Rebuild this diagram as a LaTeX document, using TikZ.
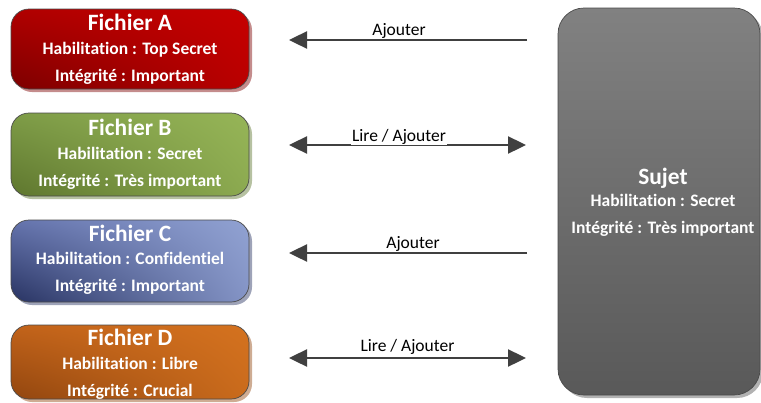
\documentclass[tikz,border=0pt]{standalone}
\usepackage{fontspec}
\setmainfont{Carlito}[Ligatures=NoCommon]
\usetikzlibrary{arrows.meta,shadows,shadings}

% corner colours of the file boxes: upper left, upper right, lower left, lower right
\definecolor{redUL}{HTML}{B00000}
\definecolor{redUR}{HTML}{C60000}
\definecolor{redLL}{HTML}{7C0000}
\definecolor{redLR}{HTML}{BA0000}
\definecolor{greenUL}{HTML}{7E9C47}
\definecolor{greenUR}{HTML}{96B557}
\definecolor{greenLL}{HTML}{5E762E}
\definecolor{greenLR}{HTML}{8CAA50}
\definecolor{blueUL}{HTML}{6574AD}
\definecolor{blueUR}{HTML}{91A2D2}
\definecolor{blueLL}{HTML}{283362}
\definecolor{blueLR}{HTML}{8494C6}
\definecolor{orangeUL}{HTML}{C2631A}
\definecolor{orangeUR}{HTML}{D4721F}
\definecolor{orangeLL}{HTML}{92460F}
\definecolor{orangeLR}{HTML}{CA6B1C}
\definecolor{greyhi}{HTML}{818181}
\definecolor{greylo}{HTML}{595959}
\definecolor{edge}{HTML}{4A4A4A}
\definecolor{arrowgrey}{HTML}{404040}

\tikzset{
  filebox/.style={draw=edge, line width=0.7pt, rounded corners=18pt,
    minimum width=238pt, inner sep=0pt,
    upper left=#1UL, upper right=#1UR, lower left=#1LL, lower right=#1LR,
    drop shadow={shadow xshift=3pt, shadow yshift=-3pt, fill=#1LL, opacity=0.45}},
  ttl/.style={text=white, font=\bfseries\fontsize{23.4}{28}\selectfont, anchor=base, inner sep=0pt},
  sub/.style={text=white, font=\bfseries\fontsize{17.5}{21}\selectfont, anchor=base, inner sep=0pt},
  lbl/.style={text=black, font=\fontsize{17.5}{21}\selectfont, anchor=base, inner sep=0pt},
  flow/.style={draw=arrowgrey, line width=2.4pt,
    arrows={-Triangle[length=18pt, width=17pt]}},
  flowboth/.style={draw=arrowgrey, line width=2.4pt,
    arrows={Triangle[length=18pt, width=17pt]-Triangle[length=18pt, width=17pt]}}
}

\begin{document}
\begin{tikzpicture}[x=1pt, y=-1pt]
\useasboundingbox (0,0) rectangle (761,402);

% --- file boxes -------------------------------------------------------
\node[filebox=red, minimum height=80pt] (A) at (130,49) {};
\node[ttl] (At) at (130,30) {Fichier A};
\node[sub] (Ah) at (130,54) {Habilitation : Top Secret};
\node[sub] (Ai) at (130,81) {Intégrité : Important};

\node[filebox=green, minimum height=83pt] (B) at (130,154.5) {};
\node[ttl] (Bt) at (130,135) {Fichier B};
\node[sub] (Bh) at (130,159) {Habilitation : Secret};
\node[sub] (Bi) at (130,186) {Intégrité : Très important};

\node[filebox=blue, minimum height=82pt] (C) at (130,261) {};
\node[ttl] (Ct) at (130,241) {Fichier C};
\node[sub] (Ch) at (130,264) {Habilitation : Confidentiel};
\node[sub] (Ci) at (130,291) {Intégrité : Important};

\node[filebox=orange, minimum height=74pt] (D) at (130,362) {};
\node[ttl] (Dt) at (130,345) {Fichier D};
\node[sub] (Dh) at (130,369) {Habilitation : Libre};
\node[sub] (Di) at (130,396) {Intégrité : Crucial};

% --- subject ----------------------------------------------------------
\node[draw=edge, line width=0.7pt, rounded corners=26pt, inner sep=0pt,
      minimum width=202pt, minimum height=387pt,
      top color=greyhi, bottom color=greylo,
      drop shadow={shadow xshift=3pt, shadow yshift=-3pt, fill=black, opacity=0.3}]
      (S) at (659,201.5) {};
\node[ttl] (St) at (663,184) {Sujet};
\node[sub] (Sh) at (663,206) {Habilitation : Secret};
\node[sub] (Si) at (663,233) {Intégrité : Très important};

% --- access arrows ----------------------------------------------------
\coordinate (a1l) at (289,40);  \coordinate (a1r) at (527,40);
\coordinate (a2l) at (289,145); \coordinate (a2r) at (526,145);
\coordinate (a3l) at (289,253); \coordinate (a3r) at (527,253);
\coordinate (a4l) at (289,358); \coordinate (a4r) at (526,358);

\draw[flow] (a1r) -- (a1l);
\node[lbl] (l1) at (399,35) {Ajouter};

\draw[flowboth] (a2l) -- (a2r);
\node[lbl, fill=white, inner xsep=1.5pt, inner ysep=1pt] (l2) at (399,141) {Lire / Ajouter};

\draw[flow] (a3r) -- (a3l);
\node[lbl] (l3) at (413,248) {Ajouter};

\draw[flowboth] (a4l) -- (a4r);
\node[lbl] (l4) at (407.5,351) {Lire / Ajouter};
\end{tikzpicture}
\end{document}
